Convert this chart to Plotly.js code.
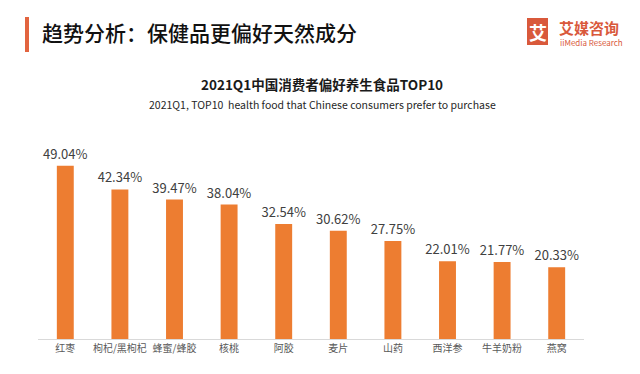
<!DOCTYPE html>
<html>
<head>
<meta charset="utf-8">
<script src="https://cdn.plot.ly/plotly-3.0.1.min.js"></script>
<style>
  html, body { margin: 0; padding: 0; background: #ffffff; }
  #chart { width: 640px; height: 374px; }
</style>
</head>
<body>
<div id="chart"></div>
<script>
const categories = ["红枣", "枸杞/黑枸杞", "蜂蜜/蜂胶", "核桃", "阿胶", "麦片", "山药", "西洋参", "牛羊奶粉", "燕窝"];
const values = [49.04, 42.34, 39.47, 38.04, 32.54, 30.62, 27.75, 22.01, 21.77, 20.33];
const valueLabels = values.map(v => v.toFixed(2) + "%");

const headerTitle = "趋势分析：保健品更偏好天然成分";
const chartTitle = "2021Q1中国消费者偏好养生食品TOP10";
const chartSubtitle = "2021Q1, TOP10  health food that Chinese consumers prefer to purchase";
const logoCn = "艾媒咨询";
const logoEn = "iiMedia Research";

const FONT = "'Noto Sans CJK SC', 'Noto Sans', sans-serif";

const trace = {
  type: "bar",
  x: categories,
  y: values,
  text: valueLabels,
  textposition: "outside",
  constraintext: "none",
  cliponaxis: false,
  textfont: { family: FONT, size: 13, color: "#404040" },
  marker: { color: "#ED7D31" },
  hoverinfo: "skip"
};

const layout = {
  width: 640,
  height: 374,
  margin: { l: 38, r: 56, t: 127, b: 35 },
  paper_bgcolor: "#ffffff",
  plot_bgcolor: "#ffffff",
  bargap: 0.69,
  showlegend: false,
  font: { family: FONT },
  xaxis: {
    showline: true,
    linecolor: "#d9d9d9",
    linewidth: 1,
    ticks: "",
    tickfont: { family: FONT, size: 10, color: "#595959" },
    fixedrange: true
  },
  yaxis: {
    range: [0, 60],
    visible: false,
    showgrid: false,
    zeroline: false,
    fixedrange: true
  },
  shapes: [
    { type: "rect", xref: "paper", yref: "paper", xsizemode: "pixel", ysizemode: "pixel",
      xanchor: 0, yanchor: 1, x0: -13, x1: -9, y0: 75, y1: 110,
      fillcolor: "#E2643F", line: { width: 0 } },
    { type: "rect", xref: "paper", yref: "paper", xsizemode: "pixel", ysizemode: "pixel",
      xanchor: 0, yanchor: 1, x0: 489, x1: 510, y0: 82, y1: 109,
      fillcolor: "#D9593B", line: { width: 0 } }
  ],
  annotations: [
    { text: headerTitle, xref: "paper", yref: "paper", x: 0, y: 1, xshift: 2, yshift: 95,
      xanchor: "left", yanchor: "middle", showarrow: false,
      font: { family: FONT, size: 21, weight: 500, color: "#111111" } },
    { text: "<b>艾</b>", xref: "paper", yref: "paper", x: 0, y: 1, xshift: 499.5, yshift: 95.5,
      xanchor: "center", yanchor: "middle", showarrow: false,
      font: { family: FONT, size: 18, color: "#ffffff" } },
    { text: "<b>" + logoCn + "</b>", xref: "paper", yref: "paper", x: 0, y: 1, xshift: 519, yshift: 100,
      xanchor: "left", yanchor: "middle", showarrow: false,
      font: { family: FONT, size: 15, color: "#D9593B" } },
    { text: logoEn, xref: "paper", yref: "paper", x: 0, y: 1, xshift: 520, yshift: 85,
      xanchor: "left", yanchor: "middle", showarrow: false,
      font: { family: FONT, size: 8, color: "#D9593B" } },
    { text: "<b>" + chartTitle + "</b>", xref: "paper", yref: "paper", x: 0, y: 1, xshift: 284, yshift: 43,
      xanchor: "center", yanchor: "middle", showarrow: false,
      font: { family: FONT, size: 13.5, color: "#1a1a1a" } },
    { text: chartSubtitle, xref: "paper", yref: "paper", x: 0, y: 1, xshift: 284, yshift: 23,
      xanchor: "center", yanchor: "middle", showarrow: false,
      font: { family: FONT, size: 10.5, color: "#262626" } }
  ]
};

Plotly.newPlot("chart", [trace], layout, { displayModeBar: false, staticPlot: true });
</script>
</body>
</html>
